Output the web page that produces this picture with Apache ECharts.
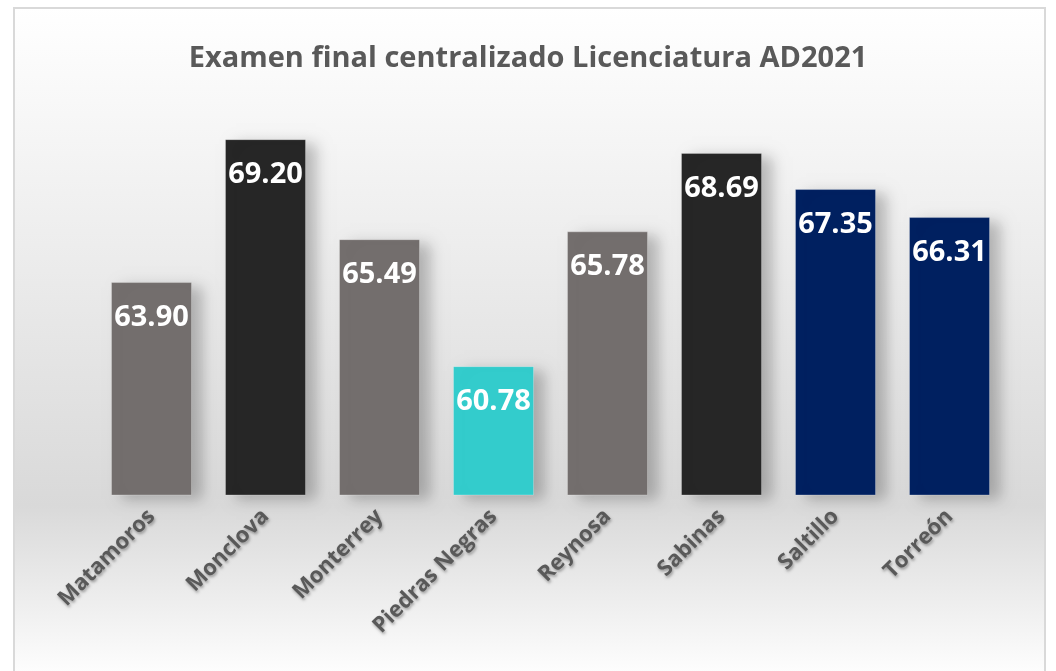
<!DOCTYPE html>
<html>
<head>
<meta charset="utf-8">
<script src="https://cdn.jsdelivr.net/npm/echarts@6/dist/echarts.min.js"></script>
<style>
  html, body { margin: 0; padding: 0; background: #fff; }
  #chart { width: 1056px; height: 671px; }
</style>
</head>
<body>
<div id="chart"></div>
<script>
  var campus = ['Matamoros', 'Monclova', 'Monterrey', 'Piedras Negras', 'Reynosa', 'Sabinas', 'Saltillo', 'Torreón'];
  var scores = [63.90, 69.20, 65.49, 60.78, 65.78, 68.69, 67.35, 66.31];
  var barColors = ['#736e6d', '#262626', '#736e6d', '#33cccc', '#736e6d', '#262626', '#002060', '#002060'];

  var myChart = echarts.init(document.getElementById('chart'));
  var barData = [];
  for (var i = 0; i < scores.length; i++) {
    barData.push({ value: scores[i], itemStyle: { color: barColors[i] } });
  }

  myChart.setOption({
    animation: false,
    graphic: [{
      type: 'rect',
      silent: true,
      z: -10,
      shape: { x: 14, y: 8, width: 1031, height: 672 },
      style: {
        fill: new echarts.graphic.LinearGradient(0, 0, 0, 1, [
          { offset: 0, color: '#ffffff' },
          { offset: 0.12, color: '#f9f9f9' },
          { offset: 0.74, color: '#d9d9d9' },
          { offset: 1, color: '#ffffff' }
        ]),
        stroke: '#d9d9d9',
        lineWidth: 2
      }
    }],
    title: {
      text: 'Examen final centralizado Licenciatura AD2021',
      left: 'center',
      top: 39,
      textStyle: {
        fontFamily: 'Open Sans',
        fontSize: 29,
        fontWeight: 'bold',
        color: '#595959'
      }
    },
    grid: {
      left: 94.5,
      right: 49.5,
      top: 117.6,
      bottom: 176,
      containLabel: false
    },
    xAxis: {
      type: 'category',
      data: campus,
      axisLine: { show: false },
      axisTick: { show: false },
      axisLabel: {
        rotate: 45,
        interval: 0,
        margin: 18,
        color: '#595959',
        fontFamily: 'Open Sans',
        fontSize: 22,
        fontWeight: 'bold',
        textShadowColor: 'rgba(0,0,0,0.35)',
        textShadowBlur: 3,
        textShadowOffsetX: 1,
        textShadowOffsetY: 2
      }
    },
    yAxis: {
      type: 'value',
      min: 56,
      max: 70,
      show: false,
      splitLine: { show: false }
    },
    series: [{
      type: 'bar',
      data: barData,
      barWidth: 81,
      itemStyle: {
        borderColor: 'rgba(255,255,255,0.25)',
        borderWidth: 1,
        shadowColor: 'rgba(0,0,0,0.25)',
        shadowBlur: 14,
        shadowOffsetX: 10,
        shadowOffsetY: 4
      },
      label: {
        show: true,
        position: 'insideTop',
        distance: 21,
        formatter: function (p) { return p.value.toFixed(2); },
        color: '#ffffff',
        fontFamily: 'Open Sans',
        fontSize: 29,
        fontWeight: 'bold'
      }
    }]
  });
</script>
</body>
</html>
